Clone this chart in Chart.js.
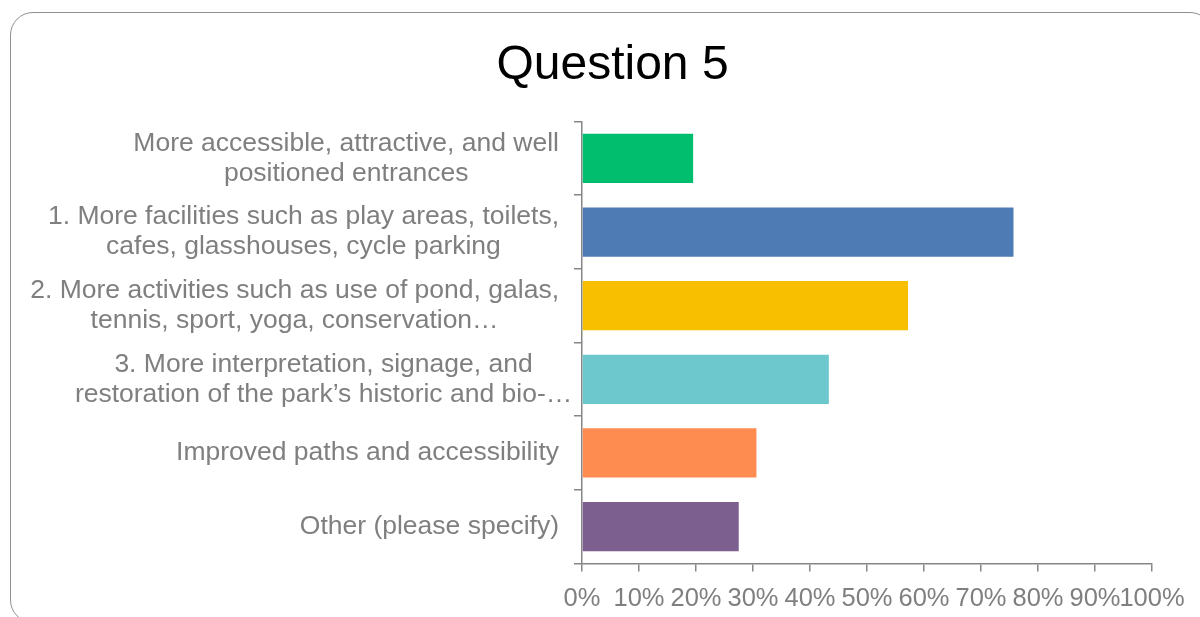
<!DOCTYPE html>
<html>
<head>
<meta charset="utf-8">
<script src="https://cdn.jsdelivr.net/npm/chart.js@4"></script>
<style>
  html, body { margin: 0; padding: 0; width: 1200px; height: 617px; overflow: hidden; background: #fff; }
  #frame { position: absolute; left: 10px; top: 12px; width: 1203px; height: 611px;
           border: 1.5px solid #8f8f8f; border-radius: 23px; box-sizing: border-box; }
  #wrap { position: absolute; left: 10px; top: 0; width: 1205px; height: 626px; }
</style>
</head>
<body>
<div id="frame"></div>
<div id="wrap"><canvas id="q5"></canvas></div>
<script>
// survey answers, top to bottom
var categories = [
  ['More accessible, attractive, and well', 'positioned entrances'],
  ['1. More facilities such as play areas, toilets,', 'cafes, glasshouses, cycle parking'],
  ['2. More activities such as use of pond, galas,', 'tennis, sport, yoga, conservation\u2026'],
  ['3. More interpretation, signage, and', 'restoration of the park\u2019s historic and bio-\u2026'],
  ['Improved paths and accessibility'],
  ['Other (please specify)']
];
var values = [19.5, 75.7, 57.2, 43.3, 30.6, 27.5];
var barColors = ['#00be6e', '#4e7bb4', '#f8bf00', '#6cc8cc', '#fe8b4f', '#7c5f8f'];
var xTicks = [0, 10, 20, 30, 40, 50, 60, 70, 80, 90, 100];

var FONT = '"Liberation Sans", Arial, sans-serif';
var GREY = '#7f7f7f';

// draws the category labels as centred blocks left of the axis
var catLabels = {
  id: 'catLabels',
  afterDraw: function(chart) {
    var ctx = chart.ctx;
    var y = chart.scales.y;
    var right = y.right - 23;
    ctx.save();
    ctx.font = '26.5px ' + FONT;
    ctx.fillStyle = GREY;
    ctx.textAlign = 'center';
    ctx.textBaseline = 'middle';
    categories.forEach(function(lines, i) {
      var w = 0;
      lines.forEach(function(l) {
        w = Math.max(w, ctx.measureText(l.replace(/\u2026$/, '')).width);
      });
      var cx = right - w / 2;
      var cy = y.getPixelForTick(i);
      lines.forEach(function(l, j) {
        ctx.fillText(l, cx, cy + (j - (lines.length - 1) / 2) * 30);
      });
    });
    ctx.restore();
  }
};

new Chart(document.getElementById('q5'), {
  type: 'bar',
  data: {
    labels: categories,
    datasets: [{
      data: values,
      backgroundColor: barColors,
      barPercentage: 0.67,
      categoryPercentage: 1
    }]
  },
  options: {
    indexAxis: 'y',
    responsive: true,
    maintainAspectRatio: false,
    animation: false,
    layout: { padding: { left: 63, right: 63, top: 0, bottom: 0 } },
    plugins: {
      legend: { display: false },
      tooltip: { enabled: false },
      title: {
        display: true,
        text: 'Question 5',
        color: '#000',
        font: { family: FONT, size: 48, weight: 'normal' },
        padding: { top: 37, bottom: 27 }
      }
    },
    scales: {
      x: {
        min: 0,
        max: 100,
        afterBuildTicks: function(scale) {
          scale.ticks = xTicks.map(function(v) { return { value: v }; });
        },
        border: { display: true, color: '#868686', width: 1.5 },
        grid: { drawOnChartArea: false, drawTicks: true, tickLength: 8, color: '#868686', lineWidth: 1.5 },
        ticks: {
          autoSkip: false,
          maxRotation: 0,
          padding: 12,
          color: GREY,
          font: { family: FONT, size: 25.5 },
          callback: function(v) { return v + '%'; }
        }
      },
      y: {
        afterFit: function(scale) { scale.width = 509; },
        border: { display: true, color: '#868686', width: 1.5 },
        grid: { drawOnChartArea: false, drawTicks: true, tickLength: 8, color: '#868686', lineWidth: 1.5 },
        ticks: { display: false }
      }
    }
  },
  plugins: [catLabels]
});
</script>
</body>
</html>
